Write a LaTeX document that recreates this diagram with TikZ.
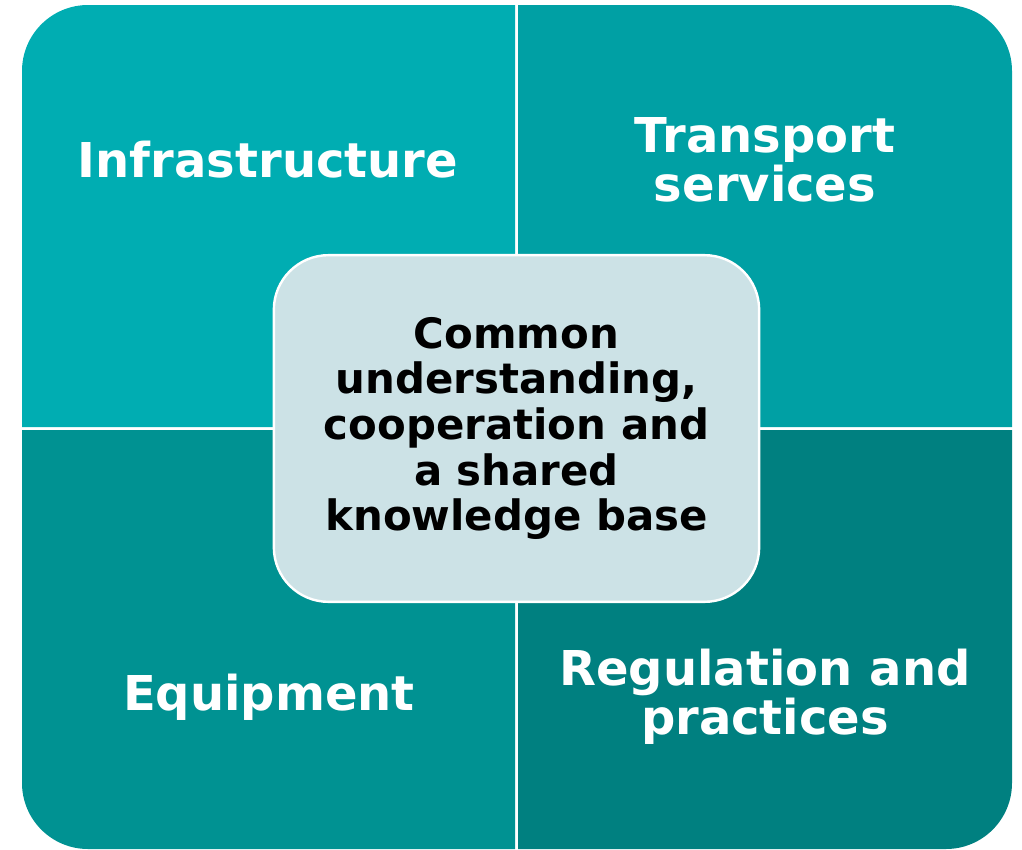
\documentclass[tikz,border=0pt]{standalone}
\usepackage{fontspec}
\setmainfont{DejaVu Sans}
\usepackage{tikz}

\begin{document}
\begin{tikzpicture}[x=0.75pt,y=0.75pt,yscale=-1,xscale=1,
  sectorlabel/.style={anchor=center,inner sep=0pt,align=center,text=white,font=\fontsize{36}{37}\selectfont\bfseries},
  hub/.style={draw=white,line width=1.8pt,fill={rgb, 255:red, 204; green, 226; blue, 230},rounded corners=41pt,minimum width=364pt,minimum height=260pt,inner sep=0pt,align=center,font=\fontsize{31.4}{34.3}\selectfont\bfseries}]
%set diagram left start at 0, and has height of 850
\useasboundingbox (0,0) rectangle (1022,850);

%Shape: Rounded Corner Rectangle, top left
\fill [color={rgb, 255:red, 0; green, 173; blue, 178 }] (515,427) -- (22,427) -- (22,71) .. controls (22,34.55) and (51.55,5) .. (88,5) -- (515,5) -- cycle ;
%Shape: Rounded Corner Rectangle, top right
\fill [color={rgb, 255:red, 0; green, 160; blue, 164 }] (518,5) -- (946,5) .. controls (982.45,5) and (1012,34.55) .. (1012,71) -- (1012,427) -- (518,427) -- cycle ;
%Shape: Rounded Corner Rectangle, bottom left
\fill [color={rgb, 255:red, 0; green, 146; blue, 146 }] (22,430) -- (515,430) -- (515,849) -- (88,849) .. controls (51.55,849) and (22,819.45) .. (22,783) -- cycle ;
%Shape: Rounded Corner Rectangle, bottom right
\fill [color={rgb, 255:red, 0; green, 128; blue, 128 }] (518,430) -- (1012,430) -- (1012,783) .. controls (1012,819.45) and (982.45,849) .. (946,849) -- (518,849) -- cycle ;

% Text Node
\draw (268,160) node [sectorlabel] (infra) {Infrastructure};
% Text Node
\draw (765,160) node [sectorlabel] (transport) {Transport\\services};
% Text Node
\draw (269,697) node [sectorlabel] (equip) {Equipment};
% Text Node
\draw (765,697) node [sectorlabel] (regul) {Regulation and\\practices};

%Shape: Rounded Rectangle [center]
\draw (516.5,428.5) node [hub] (core) {Common\\understanding,\\cooperation and\\a shared\\knowledge base};

\end{tikzpicture}
\end{document}
